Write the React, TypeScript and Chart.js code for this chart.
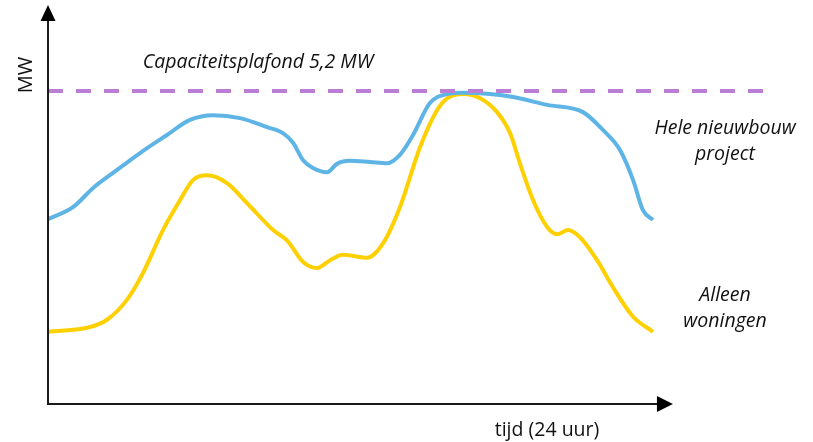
import React, { useEffect, useRef } from "react";
import Chart from "chart.js/auto";

// time in hours, MW
const blueHours = [0, 0.99, 1.79, 2.58, 3.65, 4.72, 5.63, 6.55, 7.62, 8.69, 9.32, 9.72, 10.12, 10.51, 11.07, 11.46, 11.98, 12.77, 13.45, 13.96, 14.48, 15.15, 15.83, 16.46, 17.53, 18.45, 19.8, 21.22, 22.02, 22.69, 23.21, 23.6, 24.0];
const blueMW = [3.07, 3.27, 3.59, 3.84, 4.17, 4.47, 4.72, 4.8, 4.75, 4.6, 4.5, 4.34, 4.05, 3.92, 3.85, 3.99, 4.04, 4.02, 4.0, 4.14, 4.47, 5.0, 5.15, 5.17, 5.15, 5.1, 4.97, 4.85, 4.55, 4.22, 3.72, 3.22, 3.06];

const yellowHours = [0, 1.67, 2.34, 3.13, 3.77, 4.56, 5.24, 5.75, 6.31, 7.1, 7.89, 8.93, 9.48, 10.12, 10.67, 11.19, 11.7, 12.65, 13.29, 13.96, 14.76, 15.43, 15.83, 16.46, 17.14, 17.81, 18.33, 18.72, 19.24, 19.8, 20.19, 20.63, 21.1, 21.78, 22.41, 23.21, 24.0];
const yellowMW = [1.2, 1.28, 1.4, 1.73, 2.18, 2.89, 3.39, 3.72, 3.8, 3.67, 3.34, 2.89, 2.72, 2.36, 2.26, 2.39, 2.48, 2.43, 2.67, 3.27, 4.27, 4.88, 5.08, 5.15, 5.08, 4.85, 4.5, 4.0, 3.39, 2.94, 2.82, 2.89, 2.77, 2.39, 1.94, 1.45, 1.2];

const capHours = [0, 28.44];
const capMW = [5.2, 5.2];

const X_MAX = 28.64;
const Y_MAX = 6.63;
const X_ARROW = 24.79;

const labelCap = "Capaciteitsplafond 5,2 MW";
const labelBlue = ["Hele nieuwbouw", "project"];
const labelYellow = ["Alleen", "woningen"];
const labelX = "tijd (24 uur)";
const labelY = "MW";

const FONT = "'Open Sans', Lato, sans-serif";

const decor = {
  id: "decor",
  afterDatasetsDraw(chart: any) {
    const ctx = chart.ctx as CanvasRenderingContext2D;
    const xs = chart.scales.x;
    const ys = chart.scales.y;
    const x0 = xs.getPixelForValue(0);
    const y0 = ys.getPixelForValue(0);
    const yTop = ys.getPixelForValue(Y_MAX);
    const xEnd = xs.getPixelForValue(X_ARROW);
    ctx.save();
    ctx.strokeStyle = "#1a1a1a";
    ctx.fillStyle = "#000";
    ctx.lineWidth = 2;
    // y axis
    ctx.beginPath();
    ctx.moveTo(x0, y0 + 1);
    ctx.lineTo(x0, yTop + 14);
    ctx.stroke();
    ctx.beginPath();
    ctx.moveTo(x0, yTop);
    ctx.lineTo(x0 - 7.5, yTop + 16);
    ctx.lineTo(x0 + 7.5, yTop + 16);
    ctx.closePath();
    ctx.fill();
    // x axis
    ctx.beginPath();
    ctx.moveTo(x0 - 1, y0);
    ctx.lineTo(xEnd - 14, y0);
    ctx.stroke();
    ctx.beginPath();
    ctx.moveTo(xEnd, y0);
    ctx.lineTo(xEnd - 16, y0 - 8);
    ctx.lineTo(xEnd - 16, y0 + 8);
    ctx.closePath();
    ctx.fill();

    ctx.fillStyle = "#111";
    ctx.textAlign = "center";
    ctx.textBaseline = "middle";
    ctx.font = `italic 19.5px ${FONT}`;
    ctx.fillText(labelCap, 258, 62);
    ctx.fillText(labelBlue[0], 725, 128);
    ctx.fillText(labelBlue[1], 725, 154);
    ctx.fillText(labelYellow[0], 725, 295);
    ctx.fillText(labelYellow[1], 725, 321);
    ctx.font = `19.5px ${FONT}`;
    ctx.fillText(labelX, 547, 430);
    ctx.save();
    ctx.translate(26, 75);
    ctx.rotate(-Math.PI / 2);
    ctx.font = `20px ${FONT}`;
    ctx.fillText(labelY, 0, 0);
    ctx.restore();
    ctx.restore();
  },
};

export default function App() {
  const ref = useRef<HTMLCanvasElement | null>(null);
  useEffect(() => {
    if (!ref.current) return;
    const toPts = (xs: number[], ys: number[]) => xs.map((x, i) => ({ x, y: ys[i] }));
    const chart = new Chart(ref.current, {
      type: "line",
      data: {
        datasets: [
          {
            data: toPts(capHours, capMW),
            borderColor: "#BA7ED5",
            borderWidth: 4,
            borderDash: [15, 13],
            pointRadius: 0,
            tension: 0,
          },
          {
            data: toPts(blueHours, blueMW),
            borderColor: "#5EB4E5",
            borderWidth: 4,
            pointRadius: 0,
            tension: 0.4,
            cubicInterpolationMode: "monotone",
          },
          {
            data: toPts(yellowHours, yellowMW),
            borderColor: "#FFD000",
            borderWidth: 4,
            pointRadius: 0,
            tension: 0.4,
            cubicInterpolationMode: "monotone",
          },
        ],
      },
      options: {
        animation: false,
        responsive: false,
        maintainAspectRatio: false,
        layout: { padding: { left: 48, right: 43, top: 5, bottom: 38 } },
        plugins: { legend: { display: false }, tooltip: { enabled: false } },
        scales: {
          x: { type: "linear", min: 0, max: X_MAX, display: false },
          y: { type: "linear", min: 0, max: Y_MAX, display: false },
        },
      },
      plugins: [decor],
    });
    return () => chart.destroy();
  }, []);
  return (
    <div style={{ position: "fixed", left: 0, top: 0, width: 813, height: 442, background: "#fff" }}>
      <canvas ref={ref} width={813} height={442} style={{ display: "block" }} />
    </div>
  );
}
